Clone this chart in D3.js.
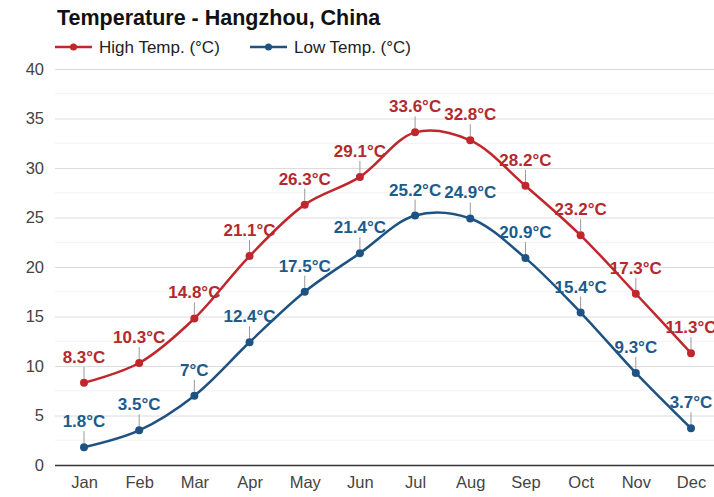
<!DOCTYPE html>
<html>
<head>
<meta charset="utf-8">
<script src="https://cdn.jsdelivr.net/npm/d3@7"></script>
<style>
  body { margin: 0; background: #fff; font-family: Arial, "Liberation Sans", sans-serif; }
</style>
</head>
<body>
<div id="chart"></div>
<script>
// ---------- DATA ----------
const months = ["Jan", "Feb", "Mar", "Apr", "May", "Jun", "Jul", "Aug", "Sep", "Oct", "Nov", "Dec"];
const highTemps = [8.3, 10.3, 14.8, 21.1, 26.3, 29.1, 33.6, 32.8, 28.2, 23.2, 17.3, 11.3];
const lowTemps = [1.8, 3.5, 7, 12.4, 17.5, 21.4, 25.2, 24.9, 20.9, 15.4, 9.3, 3.7];
const yTicks = [0, 5, 10, 15, 20, 25, 30, 35, 40];

const width = 714;
const height = 497;
const margin = { top: 69, right: 0, bottom: 32, left: 55 };
const fontFamily = "Arial, 'Liberation Sans', sans-serif";

const series = [
	{ name: "High Temp. (°C)", values: highTemps, color: "#c0272d", label: "#b32a2e" },
	{ name: "Low Temp. (°C)", values: lowTemps, color: "#1d5282", label: "#1d5a8c" },
];

const svg = d3
	.select("#chart")
	.append("svg")
	.attr("width", width)
	.attr("height", height)
	.attr("font-family", fontFamily);

// scales
const xScale = d3
	.scalePoint()
	.domain(months)
	.range([84, 691]);

const yScale = d3
	.scaleLinear()
	.domain([0, 40])
	.range([height - margin.bottom, margin.top]);

// title
svg.append("text")
	.attr("x", 57)
	.attr("y", 25)
	.attr("font-size", 21.5)
	.attr("font-weight", "bold")
	.attr("fill", "#111")
	.text("Temperature - Hangzhou, China");

// legend
const legend = svg.append("g").attr("transform", "translate(55, 47)");
let lx = 0;
series.forEach((s, i) => {
	const g = legend.append("g").attr("transform", `translate(${lx}, 0)`);
	g.append("line")
		.attr("x1", 0).attr("x2", 37)
		.attr("y1", 0).attr("y2", 0)
		.attr("stroke", s.color)
		.attr("stroke-width", 2.5);
	g.append("circle")
		.attr("cx", 18.5).attr("cy", 0).attr("r", 3.5)
		.attr("fill", s.color);
	g.append("text")
		.attr("x", 44)
		.attr("y", 6)
		.attr("font-size", 17)
		.attr("fill", "#222")
		.text(s.name);
	lx += 195;
});

// minor gridlines
const minor = d3.range(2.5, 40, 5);
svg.append("g")
	.selectAll("line")
	.data(minor)
	.join("line")
	.attr("x1", margin.left)
	.attr("x2", width)
	.attr("y1", (d) => yScale(d))
	.attr("y2", (d) => yScale(d))
	.attr("stroke", "#f2f2f2")
	.attr("stroke-width", 1);

// y axis with gridlines
const yAxis = svg
	.append("g")
	.attr("transform", `translate(${margin.left}, 0)`)
	.call(
		d3.axisLeft(yScale)
			.tickValues(yTicks)
			.tickSize(-(width - margin.left))
			.tickPadding(11)
	);
yAxis.select(".domain").remove();
yAxis.selectAll(".tick line")
	.attr("stroke", (d) => (d === 0 ? "#333" : "#dcdcdc"))
	.attr("stroke-width", (d) => (d === 0 ? 1.5 : 1));
yAxis.selectAll(".tick text")
	.attr("font-size", 16.5)
	.attr("font-family", fontFamily)
	.attr("fill", "#444");

// x axis
const xAxis = svg
	.append("g")
	.attr("transform", `translate(0, ${yScale(0)})`)
	.call(d3.axisBottom(xScale).tickSize(0).tickPadding(11));
xAxis.select(".domain").remove();
xAxis.selectAll(".tick text")
	.attr("font-size", 16.5)
	.attr("font-family", fontFamily)
	.attr("fill", "#444");

// lines
const line = d3
	.line()
	.x((d, i) => xScale(months[i]))
	.y((d) => yScale(d))
	.curve(d3.curveCatmullRom.alpha(0.5));

series.forEach((s) => {
	const g = svg.append("g");
	g.append("path")
		.datum(s.values)
		.attr("fill", "none")
		.attr("stroke", s.color)
		.attr("stroke-width", 2.5)
		.attr("d", line);

	// annotation stems
	g.selectAll(".stem")
		.data(s.values)
		.join("line")
		.attr("x1", (d, i) => xScale(months[i]))
		.attr("x2", (d, i) => xScale(months[i]))
		.attr("y1", (d) => yScale(d) - 4)
		.attr("y2", (d) => yScale(d) - 16)
		.attr("stroke", "#999")
		.attr("stroke-width", 1);

	g.selectAll("circle")
		.data(s.values)
		.join("circle")
		.attr("cx", (d, i) => xScale(months[i]))
		.attr("cy", (d) => yScale(d))
		.attr("r", 4)
		.attr("fill", s.color);

	g.selectAll("text")
		.data(s.values)
		.join("text")
		.attr("x", (d, i) => xScale(months[i]))
		.attr("y", (d) => yScale(d) - 20)
		.attr("text-anchor", "middle")
		.attr("font-size", 17)
		.attr("font-weight", "bold")
		.attr("fill", s.label)
		.text((d) => `${d}°C`);
});
</script>
</body>
</html>
